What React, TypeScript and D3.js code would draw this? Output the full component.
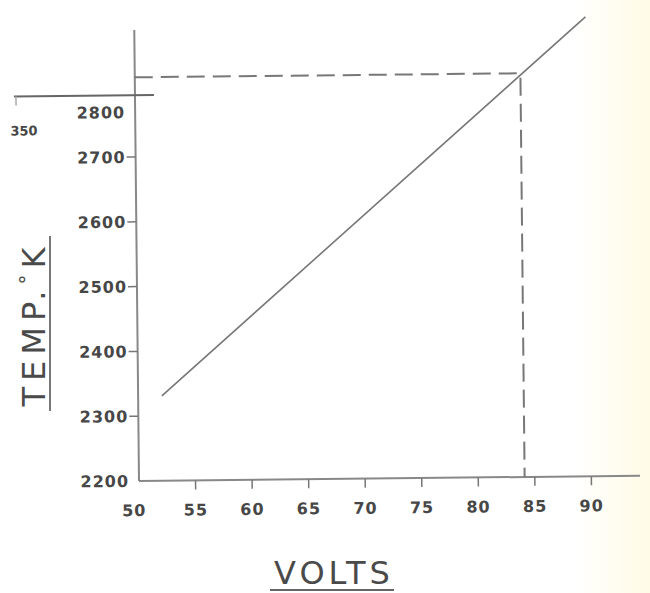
import * as d3 from 'd3'

const voltTicks = [50, 55, 60, 65, 70, 75, 80, 85, 90]
const tempTicks = [2200, 2300, 2400, 2500, 2600, 2700, 2800]
const lineVolts = [52.1, 89.9]
const lineTemps = [2331, 2909]
const markVolt = 84.1
const markTemp = 2823

const x = d3.scaleLinear().domain([50, 94.3]).range([139, 640])
const y = d3.scaleLinear().domain([2200, 2896]).range([481, 30])

const ink = '#474747'

export default function App() {
  const pts: [number, number][] = lineVolts.map((v, i) => [v, lineTemps[i]])
  const path = d3
    .line<[number, number]>()
    .x(d => x(d[0]))
    .y(d => y(d[1]))(pts)

  return (
    <svg
      width={650}
      height={593}
      style={{ position: 'absolute', left: 0, top: 0 }}
      fontFamily="DejaVu Sans, sans-serif"
    >
      <defs>
        <linearGradient id="paper" x1="0" x2="1" y1="0" y2="0">
          <stop offset="0.88" stopColor="#ffffff" />
          <stop offset="1" stopColor="#fffbe6" />
        </linearGradient>
      </defs>
      <rect width={650} height={593} fill="url(#paper)" />

      <g transform="rotate(-0.6, 139, 481)">
        {/* axes */}
        <line x1={x(50)} x2={x(50)} y1={y(2200)} y2={30} stroke="#888" strokeWidth={2} />
        <line x1={x(50)} x2={640} y1={y(2200)} y2={y(2200)} stroke="#888" strokeWidth={2} />

        {/* stray reference line at left */}
        <line x1={18} x2={158} y1={y(2800) + 3} y2={y(2800) + 3} stroke="#666" strokeWidth={2} />
        <line x1={20} x2={20} y1={y(2800) + 3} y2={y(2800) + 12} stroke="#aaa" strokeWidth={1.5} />
        <text x={14} y={y(2800) + 42} fontSize={13} fill={ink} fontWeight="bold">
          350
        </text>

        {/* y ticks */}
        {tempTicks.map(t => (
          <g key={t}>
            {t !== 2200 && t !== 2800 && (
              <line x1={x(50) - 9} x2={x(50)} y1={y(t)} y2={y(t)} stroke="#777" strokeWidth={1.5} />
            )}
            <text
              x={x(50) - 10}
              y={y(t) + (t === 2800 ? 20 : 0)}
              dy="0.36em"
              textAnchor="end"
              fontSize={16}
              letterSpacing={1}
              fontWeight="bold"
              fill={ink}
            >
              {t}
            </text>
          </g>
        ))}

        {/* x ticks */}
        {voltTicks.map(v => (
          <g key={v}>
            {v !== 50 && (
              <line x1={x(v)} x2={x(v)} y1={y(2200)} y2={y(2200) + 9} stroke="#777" strokeWidth={1.5} />
            )}
            <text
              x={x(v) + (v === 50 ? -5 : 0)}
              y={y(2200) + 35}
              textAnchor="middle"
              fontSize={16}
              letterSpacing={1}
              fontWeight="bold"
              fill={ink}
            >
              {v}
            </text>
          </g>
        ))}

        {/* dashed reading */}
        <path
          d={`M${x(50)},${y(markTemp)}H${x(markVolt)}V${y(2200)}`}
          fill="none"
          stroke="#777"
          strokeWidth={2}
          strokeDasharray="18 8"
        />

        {/* data line */}
        <path d={path ?? ''} fill="none" stroke="#777" strokeWidth={1.6} />
      </g>

      {/* axis titles */}
      <g transform="translate(45, 324) rotate(-90)">
        <text textAnchor="middle" fontSize={32} letterSpacing={6} fill="#4a4a4a">
          TEMP.
          <tspan dy={-11} fontSize={20}>°</tspan>
          <tspan dy={11}>K</tspan>
        </text>
      </g>
      <line x1={50} x2={50} y1={236} y2={411} stroke="#777" strokeWidth={2} />

      <text x={334} y={584} textAnchor="middle" fontSize={32} letterSpacing={4} fill="#4a4a4a">
        VOLTS
      </text>
      <line x1={270} x2={394} y1={590} y2={590} stroke="#666" strokeWidth={2} />
    </svg>
  )
}
